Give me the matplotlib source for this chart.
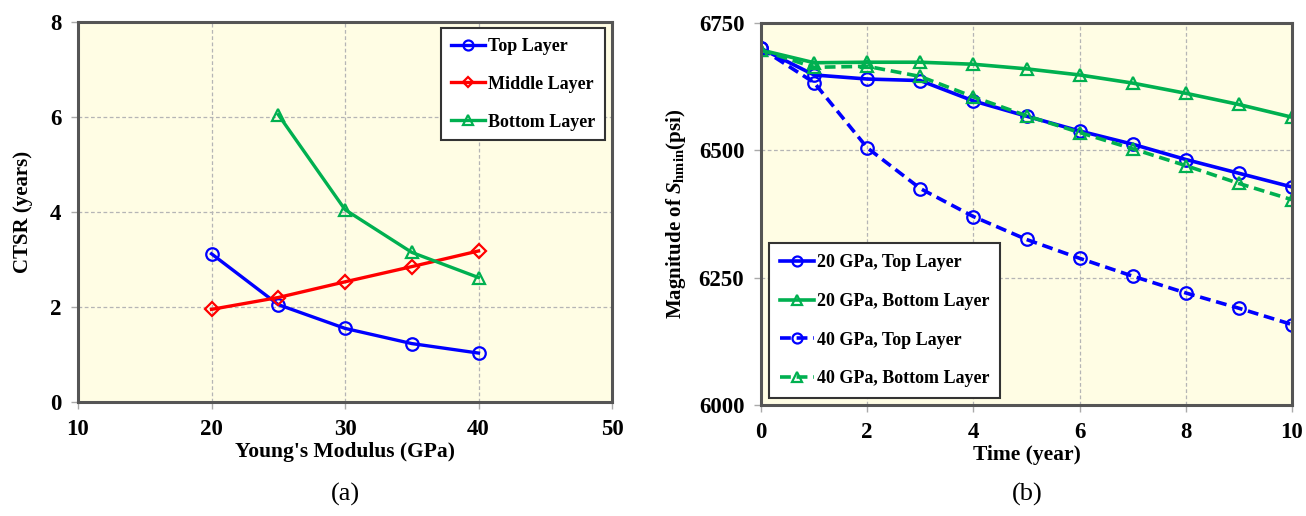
import matplotlib
matplotlib.use("Agg")
import matplotlib.pyplot as plt

plt.rcParams['font.family'] = ['Liberation Serif', 'DejaVu Serif']
plt.rcParams['font.weight'] = 'bold'
plt.rcParams['mathtext.fontset'] = 'custom'
plt.rcParams['mathtext.rm'] = 'Liberation Serif:bold'
plt.rcParams['mathtext.it'] = 'Liberation Serif:italic'
plt.rcParams['mathtext.bf'] = 'Liberation Serif:bold'

# (a) CTSR vs Young's modulus
modulus = [20, 25, 30, 35, 40]
top_ctsr = [3.12, 2.05, 1.55, 1.23, 1.03]
middle_ctsr = [1.95, 2.20, 2.53, 2.85, 3.18]
bottom_modulus = [25, 30, 35, 40]
bottom_ctsr = [6.05, 4.05, 3.15, 2.62]

# (b) Shmin vs time
years = [0, 1, 2, 3, 4, 5, 6, 7, 8, 9, 10]
top_20 = [6700, 6648, 6640, 6637, 6597, 6567, 6538, 6512, 6482, 6455, 6428]
bottom_20 = [6697, 6672, 6673, 6673, 6669, 6660, 6648, 6632, 6612, 6590, 6565]
top_40 = [6700, 6633, 6505, 6425, 6370, 6325, 6288, 6253, 6220, 6190, 6158]
bottom_40 = [6697, 6663, 6665, 6645, 6605, 6568, 6535, 6503, 6470, 6435, 6403]

BLUE = '#0000FF'
RED = '#FF0000'
GREEN = '#00B050'
FACE = '#FFFDE4'

fig = plt.figure(figsize=(13.06, 5.16), dpi=100)
ax1 = fig.add_axes([78 / 1306, 1 - 402 / 516, (612 - 78) / 1306, (402 - 22) / 516])
ax2 = fig.add_axes([761 / 1306, 1 - 405 / 516, (1292 - 761) / 1306, (405 - 23) / 516])


def style(ax):
    ax.set_facecolor(FACE)
    for s in ax.spines.values():
        s.set_color('#555555')
        s.set_linewidth(2.2)
    ax.grid(True, color='#b5b5b5', linestyle=(0, (3, 2)), linewidth=0.9)
    ax.set_axisbelow(True)
    ax.tick_params(direction='out', length=5, width=1, color='#aaaaaa',
                   labelsize=16.5, pad=7)
    for lab in ax.get_xticklabels() + ax.get_yticklabels():
        lab.set_fontweight('bold')


mk = dict(markerfacecolor='none', markersize=9, markeredgewidth=1.6)

ax1.plot(modulus, top_ctsr, color=BLUE, lw=2.4, marker='o', label='Top Layer', **mk)
ax1.plot(modulus, middle_ctsr, color=RED, lw=2.4, marker='D', label='Middle Layer',
         markerfacecolor='none', markersize=7, markeredgewidth=1.6)
ax1.plot(bottom_modulus, bottom_ctsr, color=GREEN, lw=2.4, marker='^', label='Bottom Layer', **mk)
ax1.set_xlim(10, 50)
ax1.set_ylim(0, 8)
ax1.set_xticks([10, 20, 30, 40, 50])
ax1.set_yticks([0, 2, 4, 6, 8])
style(ax1)
ax1.set_xlabel("Young's Modulus (GPa)", fontsize=15.5, fontweight='bold', labelpad=2)
ax1.set_ylabel('CTSR (years)', fontsize=15, fontweight='bold', labelpad=12)
leg1 = ax1.legend(loc='upper right', bbox_to_anchor=(0.987, 0.984), borderaxespad=0,
                  fontsize=13, handlelength=1.9, handletextpad=0.15, labelspacing=1.15,
                  borderpad=0.55, fancybox=False, framealpha=1, markerscale=0.8)
leg1.get_frame().set_edgecolor('#333333')
leg1.get_frame().set_linewidth(1.5)

ax2.plot(years, top_20, color=BLUE, lw=2.6, marker='o', label='20 GPa, Top Layer', **mk)
ax2.plot(years, bottom_20, color=GREEN, lw=2.6, marker='^', label='20 GPa, Bottom Layer', **mk)
ax2.plot(years, top_40, color=BLUE, lw=2.6, ls=(0, (3, 1.6)), marker='o',
         label='40 GPa, Top Layer', **mk)
ax2.plot(years, bottom_40, color=GREEN, lw=2.6, ls=(0, (3, 1.6)), marker='^',
         label='40 GPa, Bottom Layer', **mk)
ax2.set_xlim(0, 10)
ax2.set_ylim(6000, 6750)
ax2.set_xticks([0, 2, 4, 6, 8, 10])
ax2.set_yticks([6000, 6250, 6500, 6750])
style(ax2)
ax2.set_xlabel('Time (year)', fontsize=15.5, fontweight='bold', labelpad=2)
ax2.set_ylabel(r'Magnitude of $\mathit{S}_{\mathbf{hmin}}$(psi)', fontsize=15,
               fontweight='bold', labelpad=8)
leg2 = ax2.legend(loc='lower left', bbox_to_anchor=(0.015, 0.018), borderaxespad=0,
                  fontsize=13, handlelength=1.9, handletextpad=0.15, labelspacing=1.2,
                  borderpad=0.6, fancybox=False, framealpha=1, markerscale=0.8)
leg2.get_frame().set_edgecolor('#333333')
leg2.get_frame().set_linewidth(1.5)

fig.text(345 / 1306, 1 - 494 / 516, '(a)', fontsize=19, fontweight='normal',
         ha='center', va='center')
fig.text(1027 / 1306, 1 - 494 / 516, '(b)', fontsize=19, fontweight='normal',
         ha='center', va='center')

fig.savefig('out.png', dpi=100)
